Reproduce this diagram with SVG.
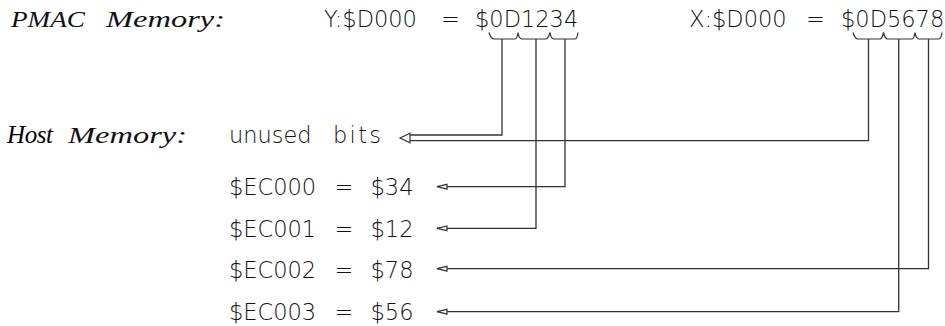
<svg xmlns="http://www.w3.org/2000/svg" width="945" height="326" viewBox="0 0 945 326">
<style>
.sans{font-family:"DejaVu Sans","Liberation Sans",sans-serif;font-size:22.5px;font-weight:200;fill:#111}
.ital{font-family:"Liberation Serif","DejaVu Serif",serif;font-style:italic;font-size:24px;fill:#111}
.times{font-family:"Liberation Serif","DejaVu Serif",serif;font-style:italic;font-size:25px;fill:#000}
.brace{fill:none;stroke:#333;stroke-width:1.2}
.conn{fill:none;stroke:#333;stroke-width:1.3}
.head{fill:#fff;stroke:#333;stroke-width:1.2}
</style>
<defs>
<marker id="arr" markerUnits="userSpaceOnUse" markerWidth="14" markerHeight="8" refX="11" refY="4" orient="auto" overflow="visible">
<path d="M1,1.6 L11,4 L1,6.4 Z" class="head"/>
</marker>
</defs>
<rect width="945" height="326" fill="#fff"/>
<g id="pmac-label">
<text class="ital" x="11" y="27" textLength="74" lengthAdjust="spacingAndGlyphs">PMAC</text>
<text class="ital" x="106" y="27" textLength="119" lengthAdjust="spacingAndGlyphs">Memory:</text>
</g>
<g id="y-word">
<text class="sans" y="27"><tspan x="324">Y:$D000</tspan><tspan x="441">=</tspan><tspan x="475">$0D1234</tspan></text>
<path class="brace" d="M489,32.5 Q491,39 494,39 L515,39 Q517,39 518,32.5 Q519,39 522,39 L546,39 Q548,39 550,32.5 Q551,39 554,39 L575,39 Q577,39 578,32.5"/>
</g>
<g id="x-word">
<text class="sans" y="27"><tspan x="689">X:$D000</tspan><tspan x="806">=</tspan><tspan x="841">$0D5678</tspan></text>
<path class="brace" d="M853,32.5 Q855,39 858,39 L880,39 Q882,39 883.5,32.5 Q885,39 888,39 L912,39 Q914,39 915,32.5 Q916,39 919,39 L939,39 Q941,39 942,32.5"/>
</g>
<g id="host-label">
<text class="times" x="7" y="142.5" textLength="46" lengthAdjust="spacing">Host</text>
<text class="ital" x="68" y="142.5" textLength="119" lengthAdjust="spacingAndGlyphs">Memory:</text>
</g>
<g id="unused-bits">
<text class="sans" y="142.5"><tspan x="229">unused</tspan><tspan x="333" textLength="48" lengthAdjust="spacing">bits</tspan></text>
</g>
<g id="ec000">
<text class="sans" y="195"><tspan x="229">$EC000</tspan><tspan x="334.5">=</tspan><tspan x="370.5">$34</tspan></text>
</g>
<g id="ec001">
<text class="sans" y="236.5"><tspan x="229">$EC001</tspan><tspan x="334.5">=</tspan><tspan x="370.5">$12</tspan></text>
</g>
<g id="ec002">
<text class="sans" y="278"><tspan x="229">$EC002</tspan><tspan x="334.5">=</tspan><tspan x="370.5">$78</tspan></text>
</g>
<g id="ec003">
<text class="sans" y="319.5"><tspan x="229">$EC003</tspan><tspan x="334.5">=</tspan><tspan x="370.5">$56</tspan></text>
</g>
<g id="connectors">
<path class="conn" d="M502,39 V135 H410"/>
<path class="conn" d="M868.5,39 V140.7 H410"/>
<polygon class="head" points="410,133.2 400,138 410,142.8"/>
<path class="conn" d="M565,39 V186.7 H437" marker-end="url(#arr)"/>
<path class="conn" d="M536,39 V228.3 H437" marker-end="url(#arr)"/>
<path class="conn" d="M928.5,39 V268.7 H437" marker-end="url(#arr)"/>
<path class="conn" d="M898.7,39 V311.7 H437" marker-end="url(#arr)"/>
</g>
</svg>
